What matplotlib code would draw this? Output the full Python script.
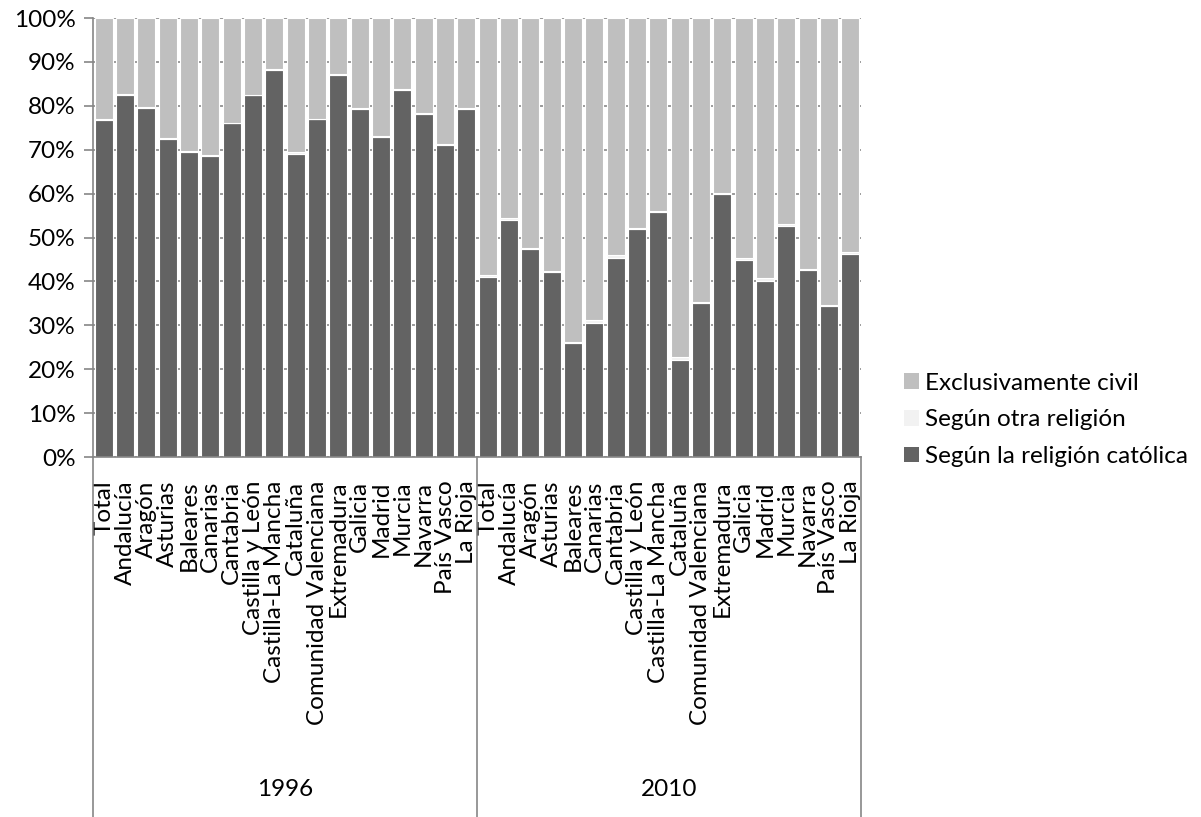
import numpy as np
import matplotlib
matplotlib.use("Agg")
import matplotlib.pyplot as plt
from matplotlib.patches import Patch

# Matrimonios por forma de celebración, 1996 y 2010 (% sobre el total)
regions = ["Total", "Andalucía", "Aragón", "Asturias", "Baleares", "Canarias",
           "Cantabria", "Castilla y León", "Castilla-La Mancha", "Cataluña",
           "Comunidad Valenciana", "Extremadura", "Galicia", "Madrid", "Murcia",
           "Navarra", "País Vasco", "La Rioja"]
years = ["1996", "2010"]

catolica_1996 = [76.7, 82.4, 79.6, 72.5, 69.5, 68.5, 76.0, 82.4, 88.2, 69.1,
                 76.9, 87.1, 79.3, 72.8, 83.7, 78.2, 71.0, 79.3]
otra_1996 = [0.2, 0.3, 0.2, 0.1, 0.3, 0.3, 0.1, 0.1, 0.1, 0.4,
             0.2, 0.1, 0.1, 0.3, 0.2, 0.1, 0.2, 0.1]
catolica_2010 = [41.1, 54.0, 47.3, 42.1, 25.9, 30.6, 45.4, 51.9, 55.7, 22.2,
                 35.0, 60.0, 44.9, 40.1, 52.6, 42.7, 34.4, 46.2]
otra_2010 = [0.4, 0.4, 0.3, 0.2, 0.3, 0.5, 0.6, 0.3, 0.3, 0.6,
             0.4, 0.2, 0.4, 0.6, 0.5, 0.2, 0.3, 0.5]

catolica = np.array(catolica_1996 + catolica_2010)
otra = np.array(otra_1996 + otra_2010)
civil = 100 - catolica - otra
labels = regions * len(years)
x = np.arange(len(labels))

c_cat = "#636363"
c_otra = "#f2f2f2"
c_civil = "#bfbfbf"
grey = "#868686"

plt.rcParams["font.family"] = ["Lato", "DejaVu Sans"]
fs = 17.5

fig = plt.figure(figsize=(12.01, 8.17), dpi=100)
ax = fig.add_axes([93 / 1201, 1 - 457 / 817, (861 - 93) / 1201, (457 - 18) / 817])

w = 0.84
ax.bar(x, catolica, w, color=c_cat, edgecolor="white", linewidth=0.8, zorder=2)
ax.bar(x, otra, w, bottom=catolica, color=c_otra, edgecolor="white", linewidth=0.8, zorder=2)
ax.bar(x, civil, w, bottom=catolica + otra, color=c_civil, edgecolor="white", linewidth=0.8, zorder=2)

ax.set_xlim(-0.5, len(labels) - 0.5)
ax.set_ylim(0, 100)
ax.set_yticks(np.arange(0, 101, 10))
ax.set_yticklabels([f"{v}%" for v in range(0, 101, 10)], fontsize=fs)
ax.yaxis.grid(True, color=grey, linewidth=1.2, zorder=0)
ax.set_axisbelow(True)
ax.tick_params(axis="y", length=6.5, width=1.2, color=grey, pad=6)

ax.set_xticks(x)
ax.set_xticklabels(labels, rotation=90, fontsize=fs, va="top", ha="center")
ax.tick_params(axis="x", length=0, pad=17)

for side in ["top", "right"]:
    ax.spines[side].set_visible(False)
for side in ["left", "bottom"]:
    ax.spines[side].set_color(grey)
    ax.spines[side].set_linewidth(1.2)

# group separators and year labels below the category labels
trans = ax.get_xaxis_transform()
y_low = -(817 - 457) / (457 - 18)
for b in [-0.5, 17.5, 35.5]:
    ax.plot([b, b], [0, y_low], transform=trans, color=grey, linewidth=1.2, clip_on=False)
y_year = -(790 - 457) / (457 - 18)
for i, yr in enumerate(years):
    ax.text(i * len(regions) + (len(regions) - 1) / 2, y_year, yr, transform=trans,
            ha="center", va="center", fontsize=fs)

handles = [Patch(facecolor=c_civil), Patch(facecolor=c_otra), Patch(facecolor=c_cat)]
names = ["Exclusivamente civil", "Según otra religión", "Según la religión católica"]
fig.legend(handles, names, loc="center left", bbox_to_anchor=(892 / 1201, 1 - 420 / 817),
           frameon=False, fontsize=fs, handlelength=0.6, handleheight=0.6,
           handletextpad=0.25, labelspacing=0.65, borderpad=0)

fig.savefig("out.png", dpi=100)
